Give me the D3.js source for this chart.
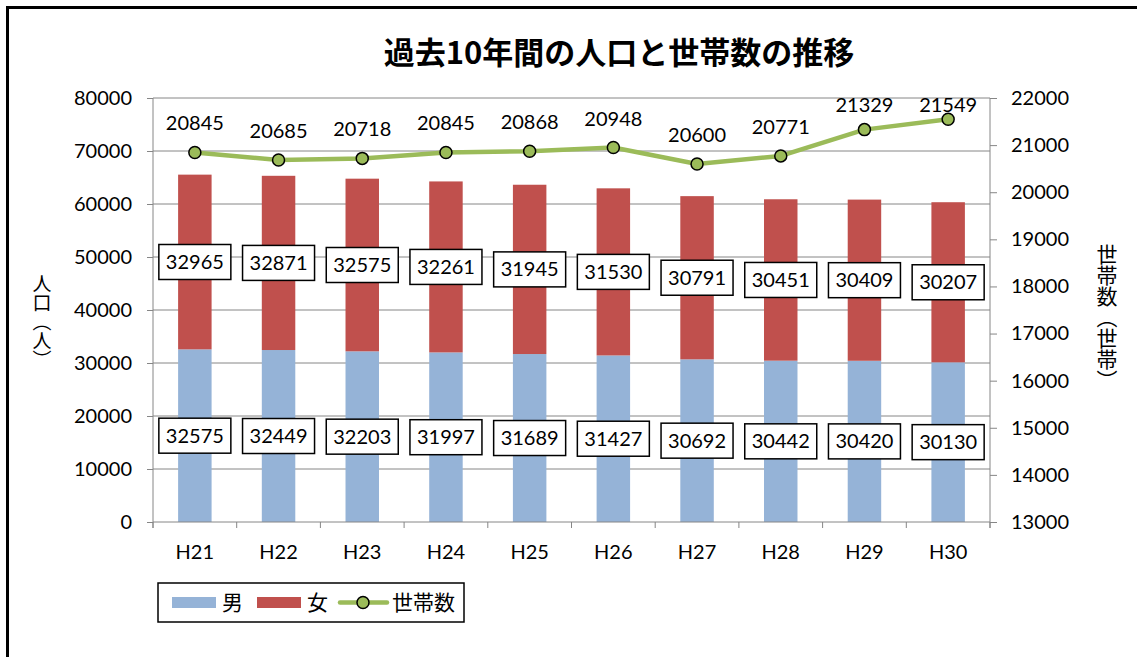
<!DOCTYPE html>
<html>
<head>
<meta charset="utf-8">
<script src="https://cdn.jsdelivr.net/npm/d3@7"></script>
<style>
  body { margin: 0; background: #fff; }
  svg { display: block; font-family: Lato, "Noto Sans CJK JP", sans-serif; }
</style>
</head>
<body>
<svg id="chart" width="1137" height="657"></svg>
<script>
// years (Heisei)
const years = ["H21", "H22", "H23", "H24", "H25", "H26", "H27", "H28", "H29", "H30"];
const male = [32575, 32449, 32203, 31997, 31689, 31427, 30692, 30442, 30420, 30130];
const female = [32965, 32871, 32575, 32261, 31945, 31530, 30791, 30451, 30409, 30207];
const households = [20845, 20685, 20718, 20845, 20868, 20948, 20600, 20771, 21329, 21549];
const leftTicks = [0, 10000, 20000, 30000, 40000, 50000, 60000, 70000, 80000];
const rightTicks = [13000, 14000, 15000, 16000, 17000, 18000, 19000, 20000, 21000, 22000];

const blue = "#95B3D7", red = "#C0504D", green = "#9BBB59", grid = "#868686";

const svg = d3.select("#chart");
const plot = { left: 153, right: 990, top: 98, bottom: 522 };

// outer frame (only top and left edges show in the window)
svg.append("rect")
  .attr("x", 7.5).attr("y", 7.5)
  .attr("width", 1200).attr("height", 700)
  .attr("fill", "none").attr("stroke", "#000").attr("stroke-width", 3);

svg.append("text")
  .attr("x", 619).attr("y", 64)
  .attr("text-anchor", "middle")
  .attr("font-family", "'Noto Sans CJK JP', sans-serif")
  .attr("font-weight", "bold")
  .attr("font-size", 31)
  .text("過去10年間の人口と世帯数の推移");

const x = d3.scaleBand().domain(years)
  .range([plot.left, plot.right])
  .paddingInner(0.6).paddingOuter(0.3);
const y = d3.scaleLinear().domain([0, 80000]).range([plot.bottom, plot.top]);
const y2 = d3.scaleLinear().domain([13000, 22000]).range([plot.bottom, plot.top]);

// gridlines
svg.append("g").selectAll("line")
  .data(leftTicks.slice(1))
  .join("line")
  .attr("x1", plot.left).attr("x2", plot.right)
  .attr("y1", d => y(d)).attr("y2", d => y(d))
  .attr("stroke", grid).attr("stroke-width", 1);

// stacked bars
const rows = years.map((yr, i) => ({ yr, m: male[i], f: female[i], h: households[i] }));
const bars = svg.append("g");
bars.selectAll(".m").data(rows).join("rect")
  .attr("x", d => x(d.yr)).attr("width", x.bandwidth())
  .attr("y", d => y(d.m)).attr("height", d => y(0) - y(d.m))
  .attr("fill", blue);
bars.selectAll(".f").data(rows).join("rect")
  .attr("x", d => x(d.yr)).attr("width", x.bandwidth())
  .attr("y", d => y(d.m + d.f)).attr("height", d => y(d.m) - y(d.m + d.f))
  .attr("fill", red);

// axes
const axL = svg.append("g")
  .attr("transform", `translate(${plot.left},0)`)
  .call(d3.axisLeft(y).tickValues(leftTicks).tickSize(6).tickPadding(15).tickFormat(d3.format("d")));
const axR = svg.append("g")
  .attr("transform", `translate(${plot.right},0)`)
  .call(d3.axisRight(y2).tickValues(rightTicks).tickSize(7).tickPadding(14).tickFormat(d3.format("d")));
[axL, axR].forEach(g => {
  g.select(".domain").attr("stroke", grid).attr("d", `M0,${plot.top}V${plot.bottom + 6}`);
  g.selectAll(".tick line").attr("stroke", grid);
  g.selectAll("text").attr("font-size", 20).attr("fill", "#000")
    .attr("font-family", "Lato, sans-serif");
});

// x axis
const step = x.step();
const xg = svg.append("g");
xg.append("line")
  .attr("x1", plot.left).attr("x2", plot.right)
  .attr("y1", plot.bottom).attr("y2", plot.bottom)
  .attr("stroke", grid);
xg.selectAll(".xt").data(d3.range(years.length + 1)).join("line")
  .attr("x1", i => plot.left + i * step).attr("x2", i => plot.left + i * step)
  .attr("y1", plot.bottom).attr("y2", plot.bottom + 6)
  .attr("stroke", grid);
xg.selectAll("text").data(years).join("text")
  .attr("x", d => x(d) + x.bandwidth() / 2)
  .attr("y", 559)
  .attr("text-anchor", "middle")
  .attr("font-size", 20)
  .text(d => d);

// line for households
const cx = d => x(d.yr) + x.bandwidth() / 2;
svg.append("path")
  .datum(rows)
  .attr("d", d3.line().x(cx).y(d => y2(d.h)))
  .attr("fill", "none").attr("stroke", green).attr("stroke-width", 4.5)
  .attr("stroke-linejoin", "round");
svg.append("g").selectAll("circle").data(rows).join("circle")
  .attr("cx", cx).attr("cy", d => y2(d.h)).attr("r", 6)
  .attr("fill", green).attr("stroke", "#000").attr("stroke-width", 1.5);
svg.append("g").selectAll("text").data(rows).join("text")
  .attr("x", cx)
  .attr("y", d => Math.max(y2(d.h) - 22, plot.top + 14))
  .attr("text-anchor", "middle")
  .attr("font-size", 20)
  .text(d => d.h);

// boxed data labels for bars
function boxLabels(key, mid) {
  const g = svg.append("g").selectAll("g").data(rows).join("g")
    .attr("transform", d => `translate(${cx(d)},${mid(d)})`);
  g.append("rect")
    .attr("x", -36).attr("y", -17.5).attr("width", 72).attr("height", 35)
    .attr("fill", "#fff").attr("stroke", "#000").attr("stroke-width", 1.5);
  g.append("text")
    .attr("text-anchor", "middle").attr("y", 7)
    .attr("font-size", 20)
    .text(d => d[key]);
}
boxLabels("f", d => y(d.m + d.f / 2));
boxLabels("m", d => y(d.m / 2));

// vertical axis titles
function vTitle(txt, xPos, yMid, size) {
  svg.append("text")
    .attr("x", xPos).attr("y", yMid)
    .attr("writing-mode", "vertical-rl")
    .attr("text-anchor", "middle")
    .attr("font-family", "'Noto Sans CJK JP', sans-serif")
    .attr("font-size", size)
    .text(txt);
}
vTitle("人口（人）", 42, 322, 19);
vTitle("世帯数（世帯）", 1107, 317, 21);

// legend
const lg = svg.append("g");
lg.append("rect")
  .attr("x", 158).attr("y", 583).attr("width", 306).attr("height", 39)
  .attr("fill", "#fff").attr("stroke", "#000").attr("stroke-width", 1.5);
lg.append("rect").attr("x", 172).attr("y", 597).attr("width", 44).attr("height", 11).attr("fill", blue);
lg.append("rect").attr("x", 257).attr("y", 597).attr("width", 44).attr("height", 11).attr("fill", red);
lg.append("line").attr("x1", 340).attr("x2", 387).attr("y1", 602.5).attr("y2", 602.5)
  .attr("stroke", green).attr("stroke-width", 4.5).attr("stroke-linecap", "round");
lg.append("circle").attr("cx", 363).attr("cy", 602.5).attr("r", 6)
  .attr("fill", green).attr("stroke", "#000").attr("stroke-width", 1.5);
[["男", 222], ["女", 307], ["世帯数", 392]].forEach(([t, lx]) => {
  lg.append("text").attr("x", lx).attr("y", 610)
    .attr("font-family", "'Noto Sans CJK JP', sans-serif")
    .attr("font-size", 21).text(t);
});
</script>
</body>
</html>
